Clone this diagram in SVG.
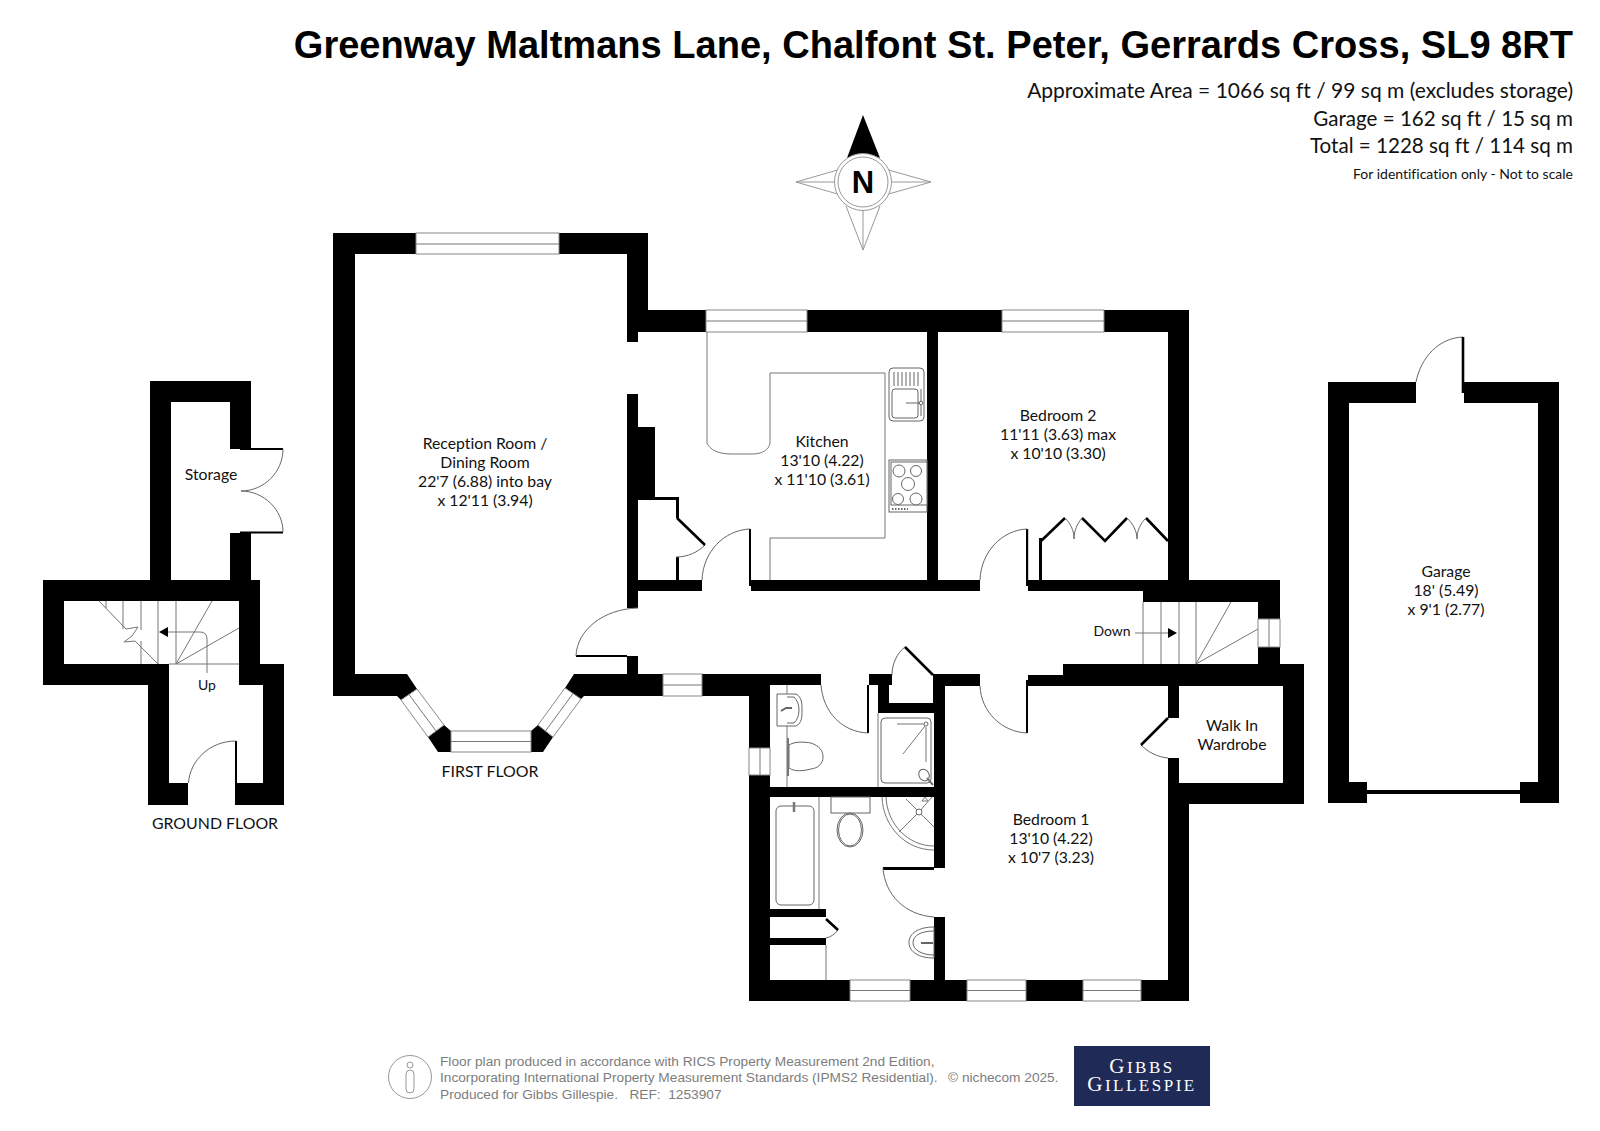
<svg xmlns="http://www.w3.org/2000/svg" width="1600" height="1131" viewBox="0 0 1600 1131">
<style>
text{font-family:"Lato","Carlito","Liberation Sans",sans-serif;fill:#111;font-variant-ligatures:none}
.l{font-size:15.75px;text-anchor:middle}
.s{font-size:14px;text-anchor:middle}
.fl{font-size:15.9px;text-anchor:middle}
.i{font-size:20.6px;text-anchor:end}
.f{font-family:"Liberation Sans",Arial,sans-serif;font-size:13.7px;fill:#7d7d7d;white-space:pre}
.w{fill:#000}
.t{fill:none;stroke:#777;stroke-width:1}
.a{fill:none;stroke:#666;stroke-width:1}
.k{fill:none;stroke:#999;stroke-width:1}
.d{fill:none;stroke:#000;stroke-width:2.6}
.g{fill:#fff;stroke:#888;stroke-width:1}
.c{fill:#fff;stroke:#666;stroke-width:1}
.b{font-family:"Liberation Serif",serif;letter-spacing:2.5px;font-size:17px;fill:#fff;text-anchor:middle}
.b tspan{font-size:21px;fill:#fff}
</style>
<rect width="1600" height="1131" fill="#fff"/>
<g id="header">
<text x="1573" y="58" text-anchor="end" style="font-family:'Liberation Sans',Arial,sans-serif;font-weight:700;font-size:38.05px;fill:#000">Greenway Maltmans Lane, Chalfont St. Peter, Gerrards Cross, SL9 8RT</text>
<text class="i" x="1573" y="98" style="font-size:21px">Approximate Area = 1066 sq ft / 99 sq m (excludes storage)</text>
<text class="i" x="1573" y="126">Garage = 162 sq ft / 15 sq m</text>
<text class="i" x="1573" y="153">Total = 1228 sq ft / 114 sq m</text>
<text x="1573" y="179" text-anchor="end" font-size="14">For identification only - Not to scale</text>
</g>
<g id="compass">
<path class="k" d="M841 169L796 182L841 195M796 182H835M885 169L931 182L885 195M931 182H891M846 206L863 250L880 206M863 250V210"/>
<path class="w" d="M863 115L847 158Q863 150 880 158Z"/>
<circle class="k" cx="863" cy="182" r="28.500" style="fill:#fff"/>
<circle class="k" cx="863" cy="182" r="25" style="fill:#fff"/>
<text x="863" y="193" text-anchor="middle" style="font-family:'Liberation Sans',Arial,sans-serif;font-weight:700;font-size:31px;fill:#000">N</text>
</g>
<g id="ground-floor">
<path class="w" d="M150 381H251V449H230V402H171V580H230V533H251V580H260V664H284V805H237V783H263V685H239V601H64V664H169V783H188V805H148V685H43V580H150Z"/>
<path class="d" d="M240 449H283M240 532.500H283M236 741V805" style="stroke-width:2"/>
<path class="a" d="M283 449C283 472 264 491 241 491C264 491 283 510 283 532M188.500 783C190 760 210 741 236 741"/>
<path class="t" d="M123 601V629M141 601V630M141 641V664M158 601V664M176 601V664M169 664H239M176 664L212 601M176 664L239 628M106 601V608M99 601L126 629L138 627L132 636L124 642L135 641L158 664"/>
<path class="w" d="M159 632L168 627V637Z"/>
<path class="t" d="M168 632H200Q207 632 207 639V673"/>
<text class="s" x="207" y="690">Up</text>
<text class="l" x="211" y="480">Storage</text>
<text class="fl" x="215" y="829">GROUND FLOOR</text>
</g>
<g id="first-floor-walls">
<path class="w" d="M333 233H416V254H355V674H407L417 689L401 700L397 696H333Z"/>
<path class="w" d="M559 233H648V310H706V332H638V342H627V254H559Z"/>
<rect class="w" x="807" y="310" width="195" height="22"/>
<path class="w" d="M1104 310H1189V580H1280V619H1258V602H1143V591H1028V580H1168V332H1104Z"/>
<rect class="w" x="927" y="332" width="11" height="248"/>
<path class="w" d="M627 394H638V427H655V497H679V518H676V500H638V608H627Z"/>
<path class="w" d="M627 580H702V591H627Z"/>
<path class="w" d="M749 529H751V580H980V591H751V586H749Z"/>
<rect class="w" x="1026" y="529" width="2.200" height="57"/>
<path class="w" d="M676 557H679V580H676Z"/>
<path class="w" d="M1258 647H1280V664H1304V804H1189V1001H1141V980H1168V783H1179V758H1168V783H1283V686H1179V718H1168V686H1063V664H1258Z"/>
<path class="w" d="M1028 675H1063V686H1028V733H1026V680H1028Z"/>
<path class="w" d="M576 655H627V656H638V674H663V696H584L581 699L565 688L574 674H627V657H576Z"/>
<path class="w" d="M428 737L444 725L451 731V752H438Z"/>
<path class="w" d="M538 725L553 737L543 752H531V731Z"/>
<path class="w" d="M702 674H821V685H770V748H749V696H702Z"/>
<rect class="w" x="749" y="775" width="21" height="226"/>
<path class="w" d="M869 674H892V685H889V703H933V685H933V674H980V686H945V868H934V713H878V685H869V733H867V685H869Z"/>
<rect class="w" x="770" y="787" width="164" height="10"/>
<path class="w" d="M883 867H934V870H883Z"/>
<rect class="w" x="934" y="917" width="11" height="70"/>
<path class="w" d="M770 909H826V917H819V938H826V945H770V938H819V917H770Z"/>
<rect class="w" x="770" y="980" width="80" height="21"/>
<rect class="w" x="910" y="980" width="57" height="21"/>
<rect class="w" x="1026" y="980" width="57" height="21"/>
<rect class="w" x="945" y="675" width="35" height="11"/>
</g>
<g id="windows">
<rect class="g" x="416" y="233" width="143" height="21"/><path class="t" d="M416 244H559"/>
<rect class="g" x="706" y="310" width="101" height="22"/><path class="t" d="M706 321H807"/>
<rect class="g" x="1002" y="310" width="102" height="22"/><path class="t" d="M1002 321H1104"/>
<rect class="g" x="1258" y="619" width="22" height="28"/><path class="t" d="M1269 619V647"/>
<rect class="g" x="663" y="674" width="39" height="22"/><path class="t" d="M663 685H702"/>
<rect class="g" x="749" y="748" width="21" height="27"/><path class="t" d="M760 748V775"/>
<rect class="g" x="451" y="731" width="80" height="21"/><path class="t" d="M451 741.500H531"/>
<path class="g" d="M417 689L401 700L428 737L444 725Z"/><path class="t" d="M409 694.500L436 731"/>
<path class="g" d="M565 688L581 699L553 737L538 725Z"/><path class="t" d="M573 693.500L545.500 731"/>
<rect class="g" x="850" y="980" width="60" height="21"/><path class="t" d="M850 990.500H910"/>
<rect class="g" x="967" y="980" width="59" height="21"/><path class="t" d="M967 990.500H1026"/>
<rect class="g" x="1083" y="980" width="58" height="21"/><path class="t" d="M1083 990.500H1141"/>
</g>
<g id="doors">
<path class="a" d="M638 608C603 609 577 630 576 656M702 580C703 552 724 530 750 529M980 580C981 552 1002 530 1027 529M980 686C981 712 1002 732 1027 733M821 685C823 712 842 732 868 733M883 868C885 895 905 915 934 917M1416 382C1421 357 1439 338 1463 337M705 545C698 552 688 557 676 557M1141 745C1148 752 1157 757 1168 758M905 647C897 653 892 664 892 675M838 930C835 934 831 937 826 938"/>
<path class="d" d="M677 518L705 545M1168 718L1141 745M905 647L933 675M826 919L838 930M1463 337V393"/>
</g>
<g id="kitchen">
<path class="t" d="M707 332V443C710 450 718 454 732 454H752C762 454 769 450 770 443V373H885V538H770V580"/>
<rect class="c" x="889" y="368" width="35" height="53" rx="4"/>
<rect class="c" x="892" y="389" width="26" height="29" rx="3"/>
<path class="a" d="M894 372V386M898 372V386M902 372V386M906 372V386M910 372V386M914 372V386M918 372V386M921 389V416M906 403H921"/>
<circle class="c" cx="921" cy="403" r="1.800"/>
<rect class="c" x="889" y="460" width="38" height="52"/>
<rect class="c" x="891" y="462" width="36" height="43"/>
<circle class="c" cx="899" cy="471" r="6"/><circle class="c" cx="916" cy="471" r="5.500"/><circle class="c" cx="908" cy="484" r="6.500"/><circle class="c" cx="898" cy="499" r="5.500"/><circle class="c" cx="916" cy="499" r="6"/>
<path d="M892 509H908" stroke="#666" stroke-width="2" stroke-dasharray="1.500 1.500"/>
</g>
<g id="wardrobe">
<rect class="w" x="1039" y="538" width="3" height="42"/>
<path class="d" d="M1041 541L1065 518M1082 518L1105 541L1127 518M1146 518L1168 541"/>
<path class="a" d="M1065 518C1071 524 1074 531 1074 539C1074 531 1077 524 1082 518M1127 518C1133 524 1137 531 1137 539C1137 531 1140 524 1146 518"/>
</g>
<g id="stairs-first">
<path class="t" d="M1143 602V664M1161 602V664M1179 602V664M1196 602V664M1196 664L1231 602M1196 664L1258 629M1135 633H1168"/>
<path class="w" d="M1177 633L1168 628V638Z"/>
</g>
<g id="bathrooms">
<path class="t" d="M787 685V787M878 713V787M819 797V909M826 945V980"/>
<path class="c" d="M777 694H796C802 697 802 704 802 710C802 717 802 723 796 726H777Z"/>
<path class="a" d="M787 697H794C797 700 799 704 799 710C799 716 797 720 794 723H787"/>
<path d="M781 711L786 708H792" stroke="#666" stroke-width="2" fill="none"/>
<path class="c" d="M789 745C795 741 805 742 811 743C819 746 823 750 823 757C823 764 818 768 811 769C803 771 795 772 789 768Z"/>
<path class="t" d="M788 738V776" style="stroke-width:2"/>
<rect class="c" x="881" y="718" width="50" height="65" rx="4"/>
<path class="t" d="M897 724H924M925 726L903 754M926 727V762"/>
<circle class="c" cx="926" cy="724" r="2"/>
<ellipse class="c" cx="924" cy="775" rx="5" ry="6" transform="rotate(-30 924 775)"/>
<path class="t" d="M927 778L933 785" style="stroke-width:2"/>
<rect class="c" x="776" y="806" width="38" height="99" rx="5"/>
<path class="t" d="M794 802V812" style="stroke-width:2.500"/>
<rect class="c" x="831" y="797" width="39" height="16"/>
<ellipse class="c" cx="850" cy="830" rx="13" ry="17"/>
<ellipse class="c" cx="850" cy="830" rx="11.500" ry="16"/>
<path class="t" d="M882 797C883 826 905 850 934 850M886 797C887 824 908 846 934 846M919 812L899 832M919 812L934 827M919 812L906 799M919 812L932 797M922 801L925 797L928 801Z"/>
<circle class="c" cx="919" cy="812" r="3"/>
<path class="c" d="M934 927C919 927 909 933 909 942.500C909 952 919 958 934 958Z"/>
<path class="a" d="M934 931C922 931 913 935 913 942.500C913 950 922 955 934 955"/>
<path d="M921 943H933" stroke="#666" stroke-width="2"/>
</g>
<g id="garage">
<path class="w" d="M1328 382H1416V403H1349V782H1367V790H1520V782H1538V403H1464V382H1559V803H1520V794H1367V803H1328Z"/>
</g>
<g id="labels">
<text class="l" x="485" y="449">Reception Room /</text>
<text class="l" x="485" y="468">Dining Room</text>
<text class="l" x="485" y="487">22'7 (6.88) into bay</text>
<text class="l" x="485" y="506">x 12'11 (3.94)</text>
<text class="l" x="822" y="447">Kitchen</text>
<text class="l" x="822" y="466">13'10 (4.22)</text>
<text class="l" x="822" y="485">x 11'10 (3.61)</text>
<text class="l" x="1058" y="421">Bedroom 2</text>
<text class="l" x="1058" y="440">11'11 (3.63) max</text>
<text class="l" x="1058" y="459">x 10'10 (3.30)</text>
<text class="s" x="1112" y="636">Down</text>
<text class="l" x="1232" y="731">Walk In</text>
<text class="l" x="1232" y="750">Wardrobe</text>
<text class="l" x="1051" y="825">Bedroom 1</text>
<text class="l" x="1051" y="844">13'10 (4.22)</text>
<text class="l" x="1051" y="863">x 10'7 (3.23)</text>
<text class="l" x="1446" y="577">Garage</text>
<text class="l" x="1446" y="596">18' (5.49)</text>
<text class="l" x="1446" y="615">x 9'1 (2.77)</text>
<text class="fl" x="490" y="777">FIRST FLOOR</text>
</g>
<g id="footer">
<circle class="k" cx="410" cy="1077" r="21.500"/>
<circle class="k" cx="410" cy="1065" r="3"/>
<rect class="k" x="406" y="1070" width="8" height="23" rx="4"/>
<text class="f" x="440" y="1066">Floor plan produced in accordance with RICS Property Measurement 2nd Edition,</text>
<text class="f" x="440" y="1082">Incorporating International Property Measurement Standards (IPMS2 Residential).</text>
<text class="f" x="440" y="1099">Produced for Gibbs Gillespie.   REF:  1253907</text>
<text class="f" x="948" y="1082">© nichecom 2025.</text>
<rect x="1074" y="1046" width="136" height="60" fill="#1f2a56"/>
<text class="b" x="1142" y="1073"><tspan>G</tspan>IBBS</text>
<text class="b" x="1142" y="1091"><tspan>G</tspan>ILLESPIE</text>
</g>
</svg>
